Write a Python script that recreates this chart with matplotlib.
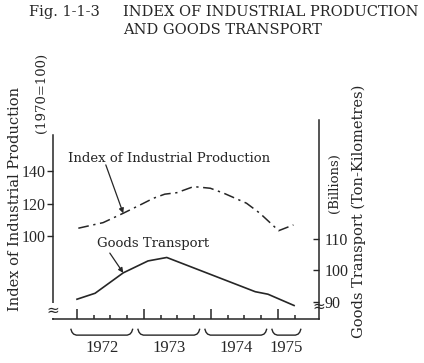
"""
Index of industrial production and goods transport, 1972-1975.
"""

import matplotlib
matplotlib.use("Agg")
import matplotlib.pyplot as plt
import matplotlib.transforms as mtransforms

SERIF = ["DejaVu Serif"]
NUM = ["Liberation Serif", "DejaVu Serif"]
INK = "#262626"

# Index of industrial production (1970=100)
iip_x = [1972.02, 1972.39, 1972.69, 1972.94, 1973.14, 1973.31, 1973.49,
         1973.74, 1973.99, 1974.19, 1974.53, 1974.73, 1975.01, 1975.23]
iip_y = [105.0, 108.4, 114.1, 119.1, 123.2, 125.7, 126.6,
         130.3, 129.3, 126.3, 120.2, 114.1, 103.5, 107.0]

# Goods transport (billions of ton-kilometres)
gt_x = [1972.00, 1972.27, 1972.69, 1973.06, 1973.34, 1974.66, 1974.85, 1975.24]
gt_y = [90.8, 92.7, 99.2, 103.0, 104.1, 93.2, 92.4, 88.8]

years = [1972, 1973, 1974, 1975]
left_ticks = [100, 120, 140]
right_ticks = [90, 100, 110]
quarter_ticks = [1972 + q / 4 for q in range(14)]


def draw_brace(ax, x0, x1):
    """Under-brace spanning x0..x1 below the axis."""
    tr = mtransforms.blended_transform_factory(ax.transData, ax.transAxes)
    xs = [x0, x0 + 0.015, x0 + 0.04, x0 + 0.08,
          x1 - 0.08, x1 - 0.04, x1 - 0.015, x1]
    ys = [-0.052, -0.066, -0.076, -0.081,
          -0.081, -0.076, -0.066, -0.052]
    ax.plot(xs, ys, color=INK, lw=1.0, transform=tr, clip_on=False)


def main() -> None:
    fig = plt.figure(figsize=(4.24, 3.63), dpi=100)
    W, H = 424, 363
    ax = fig.add_axes([53 / W, (H - 319) / H, (319 - 53) / W, (319 - 120) / H])
    ax2 = ax.twinx()

    ax.set_xlim(1971.642, 1975.612)
    ax.set_ylim(49.8, 170.8)
    ax2.set_ylim(84.5, 147.9)

    ax.plot(iip_x, iip_y, color=INK, lw=1.1,
            linestyle=(0, (7, 3, 1.5, 3)))
    ax2.plot(gt_x, gt_y, color=INK, lw=1.2)

    for a in (ax, ax2):
        a.spines["top"].set_visible(False)
        for s in a.spines.values():
            s.set_color(INK)
            s.set_linewidth(1.1)
    ax.spines["right"].set_visible(False)
    ax2.spines["left"].set_visible(False)
    ax2.spines["bottom"].set_visible(False)
    ax.spines["left"].set_bounds(49.8, 161.7)

    # x ticks: quarters, longer at year starts
    ax.set_xticks(years)
    ax.set_xticks(quarter_ticks, minor=True)
    ax.tick_params(axis="x", which="major", direction="in", length=7,
                   width=1.1, color=INK, labelbottom=False)
    ax.tick_params(axis="x", which="minor", direction="in", length=3,
                   width=1.1, color=INK)

    ax.set_yticks(left_ticks)
    ax.set_yticklabels([str(v) for v in left_ticks], family=NUM, fontsize=11.5)
    ax.tick_params(axis="y", direction="out", length=4, width=1.0,
                   color=INK, labelcolor=INK, pad=1)
    ax2.set_yticks(right_ticks)
    ax2.set_yticklabels([str(v) for v in right_ticks], family=NUM, fontsize=11.5)
    ax2.tick_params(axis="y", direction="in", length=4, width=1.0,
                    color=INK, labelcolor=INK, pad=4)

    # axis break marks
    for xf, yf in ((0.0, (319 - 310) / 199), (1.0, (319 - 306) / 199)):
        ax.text(xf, yf, "\u2248", transform=ax.transAxes, ha="center",
                va="center", fontsize=11, color=INK, family=["DejaVu Sans"],
                bbox=dict(facecolor="white", edgecolor="none", pad=0.0))

    # year braces and labels
    tr = mtransforms.blended_transform_factory(ax.transData, ax.transAxes)
    for yr in years:
        x0 = yr - 0.09
        x1 = yr + 0.83 if yr < 1975 else yr + 0.34
        draw_brace(ax, x0, x1)
        ax.text((x0 + x1) / 2, -0.145, str(yr), transform=tr, ha="center",
                va="center", fontsize=12, family=NUM, color=INK)

    # series labels with arrows
    ax.annotate("", xy=(iip_x[2], iip_y[2]), xytext=(1972.43, 143.5),
                arrowprops=dict(arrowstyle="-|>", color=INK, lw=0.9,
                                mutation_scale=7, shrinkA=0, shrinkB=0))
    ax.text(1971.87, 147.1, "Index of Industrial Production", ha="left",
            va="center", fontsize=9.5, family=SERIF, color=INK)
    ax2.annotate("", xy=(gt_x[2], gt_y[2]), xytext=(1972.49, 105.5),
                 arrowprops=dict(arrowstyle="-|>", color=INK, lw=0.9,
                                 mutation_scale=7, shrinkA=0, shrinkB=0))
    ax2.text(1972.30, 108.4, "Goods Transport", ha="left", va="center",
             fontsize=9.5, family=SERIF, color=INK)

    # axis titles
    fig.text(15 / W, 1 - 199 / H, "Index of Industrial Production",
             rotation=90, ha="center", va="center", fontsize=10.5,
             family=SERIF, color=INK)
    fig.text(41 / W, 1 - 93 / H, "(1970=100)", rotation=90, ha="center",
             va="center", fontsize=9.5, family=SERIF, color=INK)
    fig.text(334 / W, 1 - 183 / H, "(Billions)", rotation=90, ha="center",
             va="center", fontsize=9.5, family=SERIF, color=INK)
    fig.text(359 / W, 1 - 211 / H, "Goods Transport (Ton-Kilometres)",
             rotation=90, ha="center", va="center", fontsize=10.5,
             family=SERIF, color=INK)

    # figure title
    fig.text(29 / W, 1 - 12 / H, "Fig. 1-1-3", ha="left", va="center",
             fontsize=10.5, family=SERIF, color=INK)
    fig.text(123 / W, 1 - 12 / H, "INDEX OF INDUSTRIAL PRODUCTION",
             ha="left", va="center", fontsize=10.5, family=SERIF, color=INK)
    fig.text(123 / W, 1 - 30 / H, "AND GOODS TRANSPORT", ha="left",
             va="center", fontsize=10.5, family=SERIF, color=INK)

    fig.savefig("out.png", dpi=100, facecolor="white")


if __name__ == "__main__":
    main()
